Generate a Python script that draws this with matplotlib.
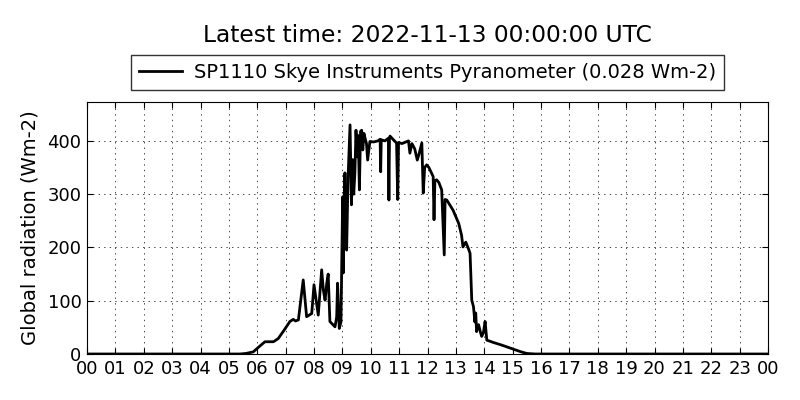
import matplotlib
matplotlib.use("Agg")
import matplotlib.pyplot as plt

# hours (UTC) and global radiation (Wm-2)
hours = [0.0, 5.0, 5.39, 5.6, 5.86, 6.05, 6.27, 6.57, 6.74, 6.95, 7.15, 7.27, 7.35, 7.45,
         7.62, 7.74, 7.92, 8.0, 8.15, 8.27, 8.33, 8.39, 8.45, 8.5, 8.56, 8.74, 8.8, 8.83,
         8.89, 8.95, 8.98, 9.01, 9.03, 9.06, 9.09, 9.12, 9.15, 9.2, 9.27, 9.32, 9.36,
         9.4, 9.44, 9.48, 9.52, 9.56, 9.6, 9.64, 9.68, 9.72, 9.76, 9.8, 9.85, 9.89,
         9.97, 10.1, 10.25, 10.33, 10.35, 10.37, 10.5, 10.62, 10.64, 10.66, 10.68,
         10.8, 10.91, 10.95, 10.98, 11.1, 11.33, 11.38, 11.45, 11.55, 11.64, 11.7,
         11.8, 11.85, 11.9, 11.97, 12.05, 12.2, 12.23, 12.26, 12.32, 12.4, 12.5,
         12.59, 12.62, 12.68, 12.9, 13.1, 13.2, 13.25, 13.35, 13.44, 13.5, 13.56,
         13.62, 13.67, 13.7, 13.73, 13.8, 13.87, 13.91, 13.97, 14.03, 14.09, 14.2,
         14.3, 14.6, 15.03, 15.3, 15.5, 15.8, 24.0]
radiation = [0, 0, 0, 1, 4, 13, 23, 23, 29, 45, 61, 65, 62, 64,
             139, 70, 76, 130, 73, 158, 120, 101, 133, 150, 61, 51, 70, 133,
             48, 60, 176, 295, 152, 290, 340, 230, 195, 330, 430, 280, 365,
             300, 339, 420, 370, 410, 308, 418, 420, 383, 414, 405, 395, 364,
             399, 398, 400, 403, 342, 402, 400, 405, 289, 406, 409,
             402, 396, 290, 397, 395, 400, 377, 395, 385, 364, 375,
             396, 302, 350, 355, 350, 333, 252, 325, 327, 322, 308,
             186, 290, 289, 270, 245, 223, 201, 210, 198, 189, 101,
             89, 60, 77, 42, 55, 40, 33, 40, 61, 26, 24,
             22, 17, 9, 4, 1, 0, 0]

tick_labels = ["%02d" % (h % 24) for h in range(25)]
y_ticks = [0, 100, 200, 300, 400]

fig = plt.figure(figsize=(8, 4), dpi=100)
ax = fig.add_axes([0.10875, 0.115, 0.85125, 0.63])
line, = ax.plot(hours, radiation, color="black", linewidth=2,
                label="SP1110 Skye Instruments Pyranometer (0.028 Wm-2)")
ax.set_xlim(0, 24)
ax.set_ylim(0, 473)
ax.set_xticks(range(25))
ax.set_xticklabels(tick_labels, fontsize=13)
ax.set_yticks(y_ticks)
ax.set_yticklabels([str(v) for v in y_ticks], fontsize=13)
ax.tick_params(direction="in", top=True, right=True, length=4, pad=4)
ax.grid(True, color="black", linestyle=(0, (2, 6)), linewidth=0.5)
ax.set_ylabel("Global radiation (Wm-2)", fontsize=14, labelpad=6)
fig.text(0.534, 0.912, "Latest time: 2022-11-13 00:00:00 UTC", fontsize=16.8,
         ha="center", va="center")
leg = ax.legend(loc="center", bbox_to_anchor=(0.5, 1.117), fontsize=14,
                frameon=True, fancybox=False, borderpad=0.4, handlelength=2.2,
                handletextpad=0.65, borderaxespad=0)
leg.get_frame().set_edgecolor("black")
leg.get_frame().set_linewidth(1)
fig.savefig("out.png", dpi=100)
